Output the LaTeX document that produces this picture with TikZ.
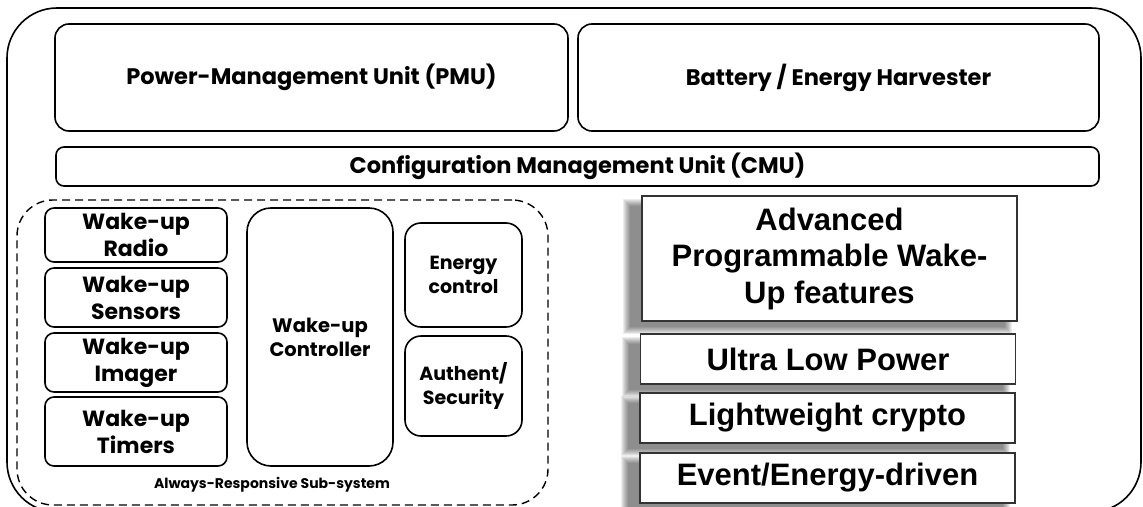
\documentclass[tikz,border=0pt]{standalone}
\usepackage{fontspec}
\newfontfamily\gothic{Poppins}
\newfontfamily\arialf{Liberation Sans}
\usetikzlibrary{calc,backgrounds}

\tikzset{
  unitbox/.style={draw, line width=1.6pt, rounded corners=14pt, inner sep=0pt,
    font=\gothic\bfseries\fontsize{22.5}{26}\selectfont},
  wakebox/.style={draw, line width=1.6pt, rounded corners=9pt, inner sep=0pt, align=center,
    font=\gothic\bfseries\fontsize{22}{27}\selectfont},
  smallbox/.style={wakebox, rounded corners=16pt, font=\gothic\bfseries\fontsize{19}{24}\selectfont},
  subsys/.style={draw, line width=1.4pt, dash pattern={on 8pt off 5pt}, rounded corners=36pt, inner sep=0pt},
  feat/.style={draw=black!80, line width=1.1pt, fill=white, inner sep=0pt, align=center,
    minimum width=375pt, minimum height=50pt,
    font=\arialf\bfseries\fontsize{31}{36.5}\selectfont},
  fshade/.style={fill=black, opacity=0.07},
}

\begin{document}
\begin{tikzpicture}[x=1pt,y=1pt,yscale=-1]
\useasboundingbox (0,0) rectangle (1143,506);

% outer frame
\draw [line width=1.6pt, rounded corners=50pt] (7,8) rectangle (1141,512);

\node [unitbox, minimum width=513pt, minimum height=107pt] (pmu) at (311.5,77.5) {Power-Management Unit (PMU)};
\node [unitbox, minimum width=521pt, minimum height=107pt] (bat) at (838.5,77.5) {Battery / Energy Harvester};
\node [unitbox, rounded corners=8pt, minimum width=1043pt, minimum height=39pt] (cmu) at (577.5,166.5) {Configuration Management Unit (CMU)};

% always-responsive sub-system
\node [subsys, minimum width=531pt, minimum height=305pt] (ars) at (282.5,352.5) {};
\node [font=\gothic\bfseries\fontsize{14}{17}\selectfont] (arslbl) at (272,485) {Always-Responsive Sub-system};

\node [wakebox, minimum width=182pt, minimum height=54pt] (radio) at (136,235) {Wake-up\\Radio};
\node [wakebox, minimum width=182pt, minimum height=59pt] (sens) at (136,297.5) {Wake-up\\Sensors};
\node [wakebox, minimum width=182pt, minimum height=59pt] (imgr) at (136,362.5) {Wake-up\\Imager};
\node [wakebox, minimum width=182pt, minimum height=69pt] (tmrs) at (136,431.5) {Wake-up\\Timers};
\node [wakebox, rounded corners=24pt, minimum width=146pt, minimum height=258pt,
       font=\gothic\bfseries\fontsize{19.5}{24}\selectfont] (ctrl) at (320,337) {Wake-up\\Controller};
\node [smallbox, minimum width=117pt, minimum height=104pt] (enrg) at (463.5,275) {Energy\\control};
\node [smallbox, minimum width=117pt, minimum height=100pt] (auth) at (463.5,386) {Authent/\\Security};

% programmable features
\node [feat, minimum height=125pt] (adv) at (829.5,258.5) {Advanced\\Programmable Wake-\\Up features};
\node [feat] (ulp) at (828,359) {Ultra Low Power};
\node [feat] (lwc) at (827.5,418) {Lightweight crypto};
\node [feat] (evt) at (827.5,478) {Event/Energy-driven};

% soft shadows
\begin{scope}[on background layer]
\foreach \b in {adv,ulp,lwc,evt}
  \foreach \k in {0,...,7}
    \fill [fshade] ($(\b.north west)+({-18+\k},{4+\k})$) rectangle ($(\b.south east)+({-6-\k},{12-\k})$);
\end{scope}

\end{tikzpicture}
\end{document}
